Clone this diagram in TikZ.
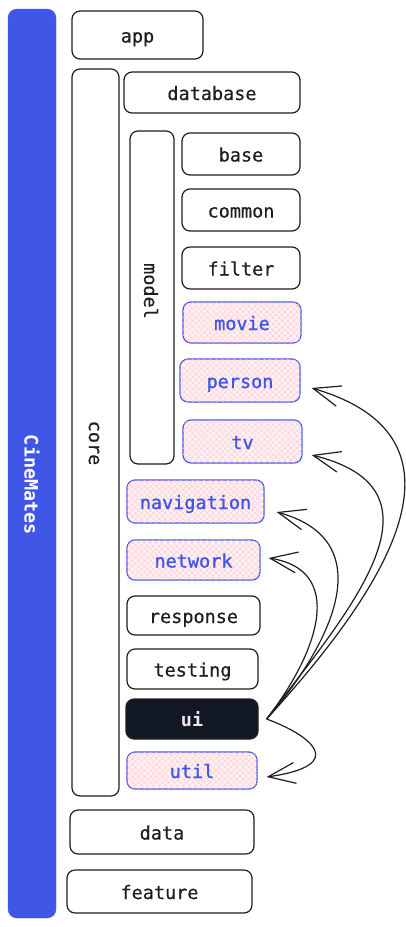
\documentclass[tikz,border=0pt]{standalone}
\usepackage{fontspec}
\setmonofont{DejaVu Sans Mono}
\usetikzlibrary{arrows.meta,patterns.meta}
\definecolor{ink}{HTML}{1E1E1E}
\definecolor{brand}{HTML}{4056E6}
\definecolor{hatchbg}{HTML}{FFF1F3}
\definecolor{hatchln}{HTML}{FFC4CE}
\definecolor{uibg}{HTML}{111823}
\definecolor{uitext}{HTML}{F3E4E8}
\tikzset{
  box/.style={draw=ink, line width=1.2pt, rounded corners=8pt, fill=white,
    inner sep=0pt, text height=15pt, text depth=0pt,
    font=\ttfamily\fontsize{18.5}{20}\selectfont\addfontfeature{FakeBold=0.4}, text=ink},
  hot/.style={box, draw=brand, text=brand, fill=hatchbg,
    font=\ttfamily\fontsize{18.5}{20}\selectfont\addfontfeature{FakeBold=1.2},
    postaction={pattern={Lines[angle=45,distance=4pt,line width=0.5pt]}, pattern color=hatchln},
    postaction={pattern={Lines[angle=-45,distance=4pt,line width=0.5pt]}, pattern color=hatchln}},
  dark/.style={box, fill=uibg, text=uitext, font=\ttfamily\bfseries\fontsize{18.5}{20}\selectfont},
  vlabel/.style={rotate=-90, font=\ttfamily\fontsize{18.5}{20}\selectfont\addfontfeature{FakeBold=0.4}, text=ink, inner sep=0pt},
  dep/.style={draw=ink, line width=1.2pt, -{Straight Barb[length=27pt,width=21pt,line width=1.2pt]}}
}
\begin{document}
\begin{tikzpicture}[x=1pt,y=-1pt]
\useasboundingbox (0,0) rectangle (406,927);
% brand bar
\node[draw=brand, fill=brand, rounded corners=9pt, minimum width=48pt, minimum height=909pt, inner sep=0pt] (bar) at (32,463.5) {};
\node[rotate=-90, text=white, inner sep=0pt, font=\ttfamily\bfseries\fontsize{18.5}{20}\selectfont] (cinemates) at (32,485) {CineMates};
% top level
\node[box, minimum width=131pt, minimum height=48pt] (app) at (137.5,35) {app};
\node[box, minimum width=47pt, minimum height=727pt] (core) at (95.5,432.5) {};
\node[vlabel] (corelbl) at (94,443) {core};
\node[box, minimum width=176pt, minimum height=41pt] (database) at (212,92.5) {database};
\node[box, minimum width=44pt, minimum height=333pt] (model) at (152,297.5) {};
\node[vlabel] (modellbl) at (151,291) {model};
\node[box, minimum width=118pt, minimum height=42pt] (base) at (241,154) {base};
\node[box, minimum width=118pt, minimum height=42pt] (common) at (241,210) {common};
\node[box, minimum width=118pt, minimum height=42pt] (filter) at (241,268) {filter};
\node[hot, minimum width=118pt, minimum height=41pt] (movie) at (242,322.5) {movie};
\node[hot, minimum width=120pt, minimum height=43pt] (person) at (240,380.5) {person};
\node[hot, minimum width=119pt, minimum height=43pt] (tv) at (242.5,441.5) {tv};
\node[hot, minimum width=137pt, minimum height=43pt] (navigation) at (195.5,501.5) {navigation};
\node[hot, minimum width=133pt, minimum height=40pt] (network) at (193.5,560) {network};
\node[box, minimum width=133pt, minimum height=39pt] (response) at (193.5,615.5) {response};
\node[box, minimum width=131pt, minimum height=40pt] (testing) at (192.5,669) {testing};
\node[dark, minimum width=132pt, minimum height=40pt] (ui) at (192,719) {ui};
\node[hot, minimum width=130pt, minimum height=37pt] (util) at (192,770.5) {util};
\node[box, minimum width=184pt, minimum height=44pt] (data) at (162,832) {data};
\node[box, minimum width=185pt, minimum height=43pt] (feature) at (159.5,891.5) {feature};
% dependency anchors
\coordinate (src) at ([xshift=8pt]ui.east);
\coordinate (tPerson) at ([xshift=11pt,yshift=-7.5pt]person.east);
\coordinate (tTv) at ([xshift=9pt,yshift=-13.5pt]tv.east);
\coordinate (tNav) at ([xshift=12pt,yshift=-10.5pt]navigation.east);
\coordinate (tNet) at ([xshift=8pt,yshift=2pt]network.east);
\coordinate (tUtil) at ([xshift=9pt,yshift=-6.5pt]util.east);
\draw[dep] (src) .. controls (375,600) and (490,440) .. (tPerson);
\draw[dep] (src) .. controls (350,610) and (455,490) .. (tTv);
\draw[dep] (src) .. controls (335,640) and (380,540) .. (tNav);
\draw[dep] (src) .. controls (320,650) and (345,570) .. (tNet);
\draw[dep] (src) .. controls (310,735) and (350,765) .. (tUtil);
\end{tikzpicture}
\end{document}
